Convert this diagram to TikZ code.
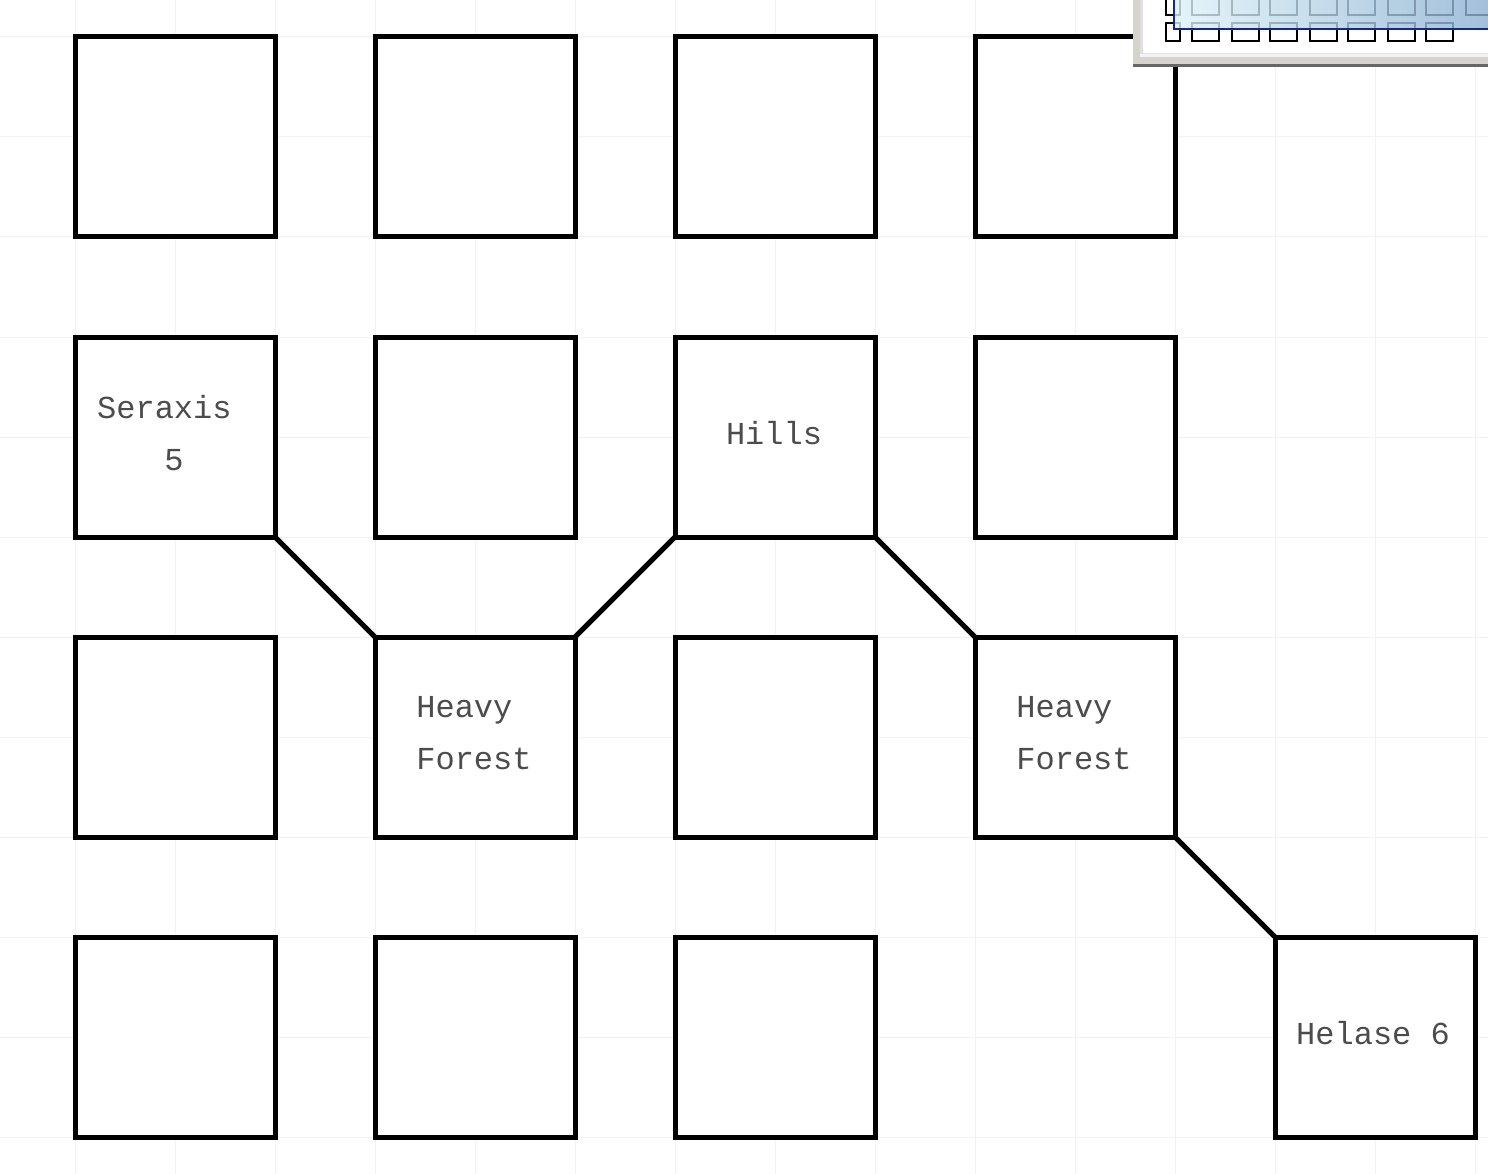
\documentclass[tikz,border=0pt]{standalone}
\usepackage{fontspec}
\setmonofont{Liberation Mono}
\definecolor{panelblueL}{RGB}{222,242,248}
\definecolor{panelblueR}{RGB}{140,176,210}
\definecolor{paneledge}{RGB}{20,40,140}
\definecolor{panelgrey}{RGB}{214,211,204}
\begin{document}
\begin{tikzpicture}[x=1pt,y=-1pt,
  cell/.style={draw=black, line width=5pt, minimum width=200pt, minimum height=200pt, inner sep=0pt, outer sep=0pt, fill=white},
  lbl/.style={font=\ttfamily\fontsize{32}{52}\selectfont, text=black!70, align=center},
  link/.style={line width=5pt, line cap=round},
  mini/.style={draw=black, line width=1.2pt}]
\useasboundingbox (0,0) rectangle (1488,1174);
\fill[white] (0,0) rectangle (1488,1174);
% grid
\foreach \gx in {75,175,...,1475} \draw[black!5, line width=1pt] (\gx,0) -- (\gx,1174);
\foreach \gy in {37,137,...,1137} \draw[black!5, line width=1pt] (0,\gy) -- (1488,\gy);
% cells
\node[cell] (c11) at (175,137) {};
\node[cell] (c12) at (475,137) {};
\node[cell] (c13) at (775,137) {};
\node[cell] (c14) at (1075,137) {};
\node[cell] (c21) at (175,437) {};
\node[cell] (c22) at (475,437) {};
\node[cell] (c23) at (775,437) {};
\node[cell] (c24) at (1075,437) {};
\node[cell] (c31) at (175,737) {};
\node[cell] (c32) at (475,737) {};
\node[cell] (c33) at (775,737) {};
\node[cell] (c34) at (1075,737) {};
\node[cell] (c41) at (175,1037) {};
\node[cell] (c42) at (475,1037) {};
\node[cell] (c43) at (775,1037) {};
\node[cell] (c45) at (1375,1037) {};
% labels
\node[lbl] (t21) at (174,433) {Seraxis\phantom{x}\\5};
\node[lbl] (t23) at (774,433) {Hills};
\node[lbl] (t32) at (474,733) {Heavy\phantom{x}\\Forest};
\node[lbl] (t34) at (1074,733) {Heavy\phantom{x}\\Forest};
\node[lbl] (t45) at (1373,1033) {Helase 6};
% links
\draw[link] (c21.south east) -- (c32.north west);
\draw[link] (c32.north east) -- (c23.south west);
\draw[link] (c23.south east) -- (c34.north west);
\draw[link] (c34.south east) -- (c45.north west);
% outline panel overlay
\fill[black!60] (1133,0) rectangle (1488,67);
\fill[panelgrey] (1133,0) rectangle (1488,64);
\fill[white!95!black] (1140,0) rectangle (1488,57);
\fill[black!12] (1140,0) rectangle (1488,54);
\fill[white] (1143,0) rectangle (1488,53);
\foreach \mx in {1192,1232,1270,1310,1348,1388,1426} {
  \draw[mini] (\mx,23) rectangle ++(27,18);
  \draw[mini] (\mx,-5) rectangle ++(27,20);
}
\draw[mini] (1166,23) rectangle (1180,41);
\draw[mini] (1166,-5) rectangle (1180,15);
\draw[mini] (1466,-5) rectangle (1495,15);
\shade[left color=panelblueL, right color=panelblueR, opacity=0.8] (1174,-2) rectangle (1490,29);
\draw[draw=paneledge, line width=1.5pt] (1174,-2) rectangle (1490,29);
\end{tikzpicture}
\end{document}
